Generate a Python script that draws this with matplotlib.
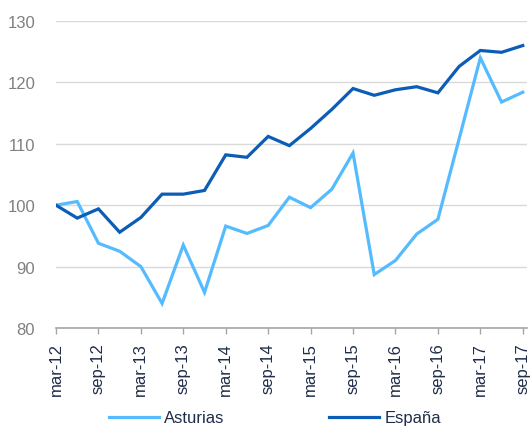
import matplotlib
matplotlib.use("Agg")
import matplotlib.pyplot as plt

plt.rcParams["font.family"] = ["Liberation Sans", "DejaVu Sans"]

quarters = ["mar-12", "jun-12", "sep-12", "dic-12", "mar-13", "jun-13", "sep-13", "dic-13",
            "mar-14", "jun-14", "sep-14", "dic-14", "mar-15", "jun-15", "sep-15", "dic-15",
            "mar-16", "jun-16", "sep-16", "dic-16", "mar-17", "jun-17", "sep-17"]
asturias = [100.0, 100.6, 93.8, 92.5, 90.0, 84.0, 93.5, 85.8, 96.6, 95.4, 96.7, 101.3,
            99.6, 102.6, 108.5, 88.7, 91.0, 95.3, 97.7, 110.8, 124.0, 116.8, 118.4]
espana = [100.0, 97.9, 99.4, 95.6, 98.0, 101.8, 101.8, 102.4, 108.2, 107.8, 111.2, 109.7,
          112.5, 115.6, 119.0, 117.9, 118.8, 119.3, 118.3, 122.6, 125.2, 124.9, 126.0]
yticks = [80, 90, 100, 110, 120, 130]

W, H = 531, 427
fig = plt.figure(figsize=(W / 100, H / 100), dpi=100)
ax = fig.add_axes([56 / W, 1 - 329 / H, 471 / W, 307 / H])

x = list(range(len(quarters)))
ax.plot(x, asturias, color="#55BBFF", lw=2.3, label="Asturias", solid_joinstyle="miter")
ax.plot(x, espana, color="#0B5DB5", lw=2.3, label="España", solid_joinstyle="miter")

ax.set_xlim(0, 22.2)
ax.set_ylim(80, 130)
ax.set_yticks(yticks)
ax.set_xticks(x[::2])
ax.set_xticklabels(quarters[::2], rotation=90, fontsize=12, color="#1F2D4A")
ax.tick_params(axis="y", length=0, pad=15, labelsize=12, labelcolor="#808080")
ax.tick_params(axis="x", length=4, width=1, color="#A6A6A6", pad=6)

ax.grid(axis="y", color="#D9D9D9", lw=1.0)
ax.set_axisbelow(True)
for s in ["top", "right", "left"]:
    ax.spines[s].set_visible(False)
ax.spines["bottom"].set_color("#A6A6A6")
ax.spines["bottom"].set_linewidth(1.2)

fig.legend(loc="center", bbox_to_anchor=(275 / W, 1 - 419 / H), ncol=2, frameon=False,
           fontsize=12, handlelength=3.0, columnspacing=6.3, handletextpad=0.3,
           labelcolor="#1F2D4A", borderaxespad=0)

fig.savefig("out.png", dpi=100)
